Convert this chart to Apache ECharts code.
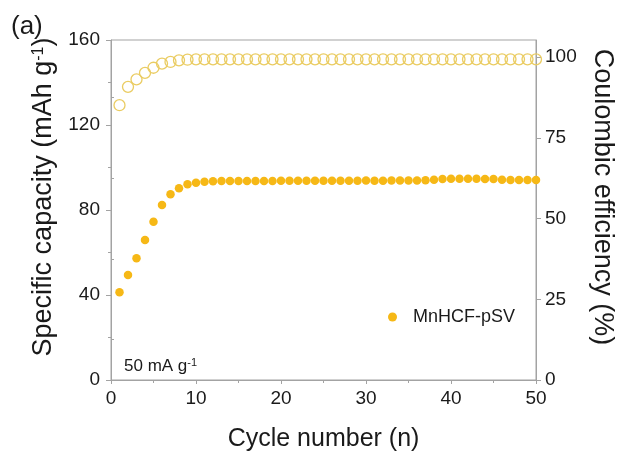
<!DOCTYPE html>
<html>
<head>
<meta charset="utf-8">
<script src="https://cdn.jsdelivr.net/npm/echarts@6/dist/echarts.min.js"></script>
<style>html,body{margin:0;padding:0;background:#fff}#c{width:617px;height:454px}</style>
</head>
<body>
<div id="c"></div>
<script>
const cycles = [1,2,3,4,5,6,7,8,9,10,11,12,13,14,15,16,17,18,19,20,21,22,23,24,25,26,27,28,29,30,31,32,33,34,35,36,37,38,39,40,41,42,43,44,45,46,47,48,49,50];
const capacity = [41.3,49.4,57.3,65.9,74.5,82.4,87.4,90.2,92.1,92.8,93.3,93.5,93.6,93.6,93.6,93.7,93.7,93.7,93.7,93.8,93.8,93.8,93.8,93.8,93.8,93.8,93.8,93.8,93.8,93.9,93.8,93.8,93.9,93.9,93.9,93.9,94.0,94.2,94.6,94.7,94.7,94.7,94.7,94.6,94.6,94.2,94.1,94.1,94.1,94.1];
const efficiency = [85.1,90.8,93.1,95.1,96.7,98.0,98.5,99.0,99.2,99.3,99.3,99.3,99.3,99.3,99.3,99.3,99.3,99.3,99.3,99.3,99.3,99.3,99.3,99.3,99.3,99.3,99.3,99.3,99.3,99.3,99.3,99.3,99.3,99.3,99.3,99.3,99.3,99.3,99.3,99.3,99.3,99.3,99.3,99.3,99.3,99.3,99.3,99.3,99.3,99.3];
const xTicks = [0,10,20,30,40,50];
const leftTicks = [0,40,80,120,160];
const rightTicks = [0,25,50,75,100];
const rightMinor = [12.5,37.5,62.5,87.5];
const seriesName = 'MnHCF-pSV';

const FONT = '"Liberation Sans", Arial, sans-serif';
const AX = '#a3a3a3';
const TXT = '#1a1a1a';
const G = {left: 111, right: 81, top: 40, bottom: 74, outerBoundsMode: 'none', containLabel: false};

const chart = echarts.init(document.getElementById('c'), null, {renderer: 'canvas'});
chart.setOption({
  animation: false,
  backgroundColor: '#fff',
  textStyle: {fontFamily: FONT},
  title: [
    {text: '(a)', left: 6, top: 9, textStyle: {fontFamily: FONT, fontSize: 26, fontWeight: 'normal', color: TXT}},
    {text: '50 mA g{sup|-1}', left: 119, top: 352, textStyle: {fontFamily: FONT, fontSize: 17, fontWeight: 'normal', color: TXT,
      rich: {sup: {fontSize: 11, verticalAlign: 'top', padding: [0,0,8,0], color: TXT}}}}
  ],
  legend: {
    data: [seriesName], left: 383, top: 303, itemWidth: 25, itemHeight: 9,
    textStyle: {fontFamily: FONT, fontSize: 18, color: TXT, padding: [0,0,0,3]}
  },
  grid: [
    Object.assign({show: true, borderColor: AX, borderWidth: 1}, G),
    Object.assign({show: false}, G)
  ],
  xAxis: [
    {
      gridIndex: 0, type: 'value', min: 0, max: 50, interval: 10,
      name: 'Cycle number (n)', nameLocation: 'middle', nameGap: 47,
      nameTextStyle: {fontFamily: FONT, fontSize: 25, color: TXT},
      axisLine: {show: true, lineStyle: {color: AX}},
      axisTick: {show: true, length: 4, lineStyle: {color: AX}, customValues: xTicks},
      minorTick: {show: true, splitNumber: 2, length: 3, lineStyle: {color: AX}},
      axisLabel: {fontFamily: FONT, fontSize: 19, color: TXT, margin: 9, customValues: xTicks},
      splitLine: {show: false}
    },
    {
      gridIndex: 1, type: 'value', min: 0, max: 50, show: false
    }
  ],
  yAxis: [
    {
      gridIndex: 0, type: 'value', min: 0, max: 160, interval: 40, position: 'left',
      name: 'Specific capacity (mAh g{sup|-1})', nameLocation: 'middle', nameGap: 45, nameRotate: 90,
      nameTextStyle: {fontFamily: FONT, fontSize: 27, color: TXT, padding: [0,0,0,26],
        rich: {sup: {fontSize: 16, verticalAlign: 'top', padding: [0,0,11,0], color: TXT}}},
      axisLine: {show: true, lineStyle: {color: AX}},
      axisTick: {show: true, length: 5, lineStyle: {color: AX}},
      minorTick: {show: true, splitNumber: 2, length: 3, lineStyle: {color: AX}},
      axisLabel: {fontFamily: FONT, fontSize: 19, color: TXT, margin: 11, customValues: leftTicks},
      splitLine: {show: false}
    },
    {
      gridIndex: 0, type: 'value', min: 0, max: 105.3, position: 'right',
      name: 'Coulombic efficiency (%)', nameLocation: 'middle', nameGap: 53, nameRotate: -90,
      nameTextStyle: {fontFamily: FONT, fontSize: 27, color: TXT, padding: [0,26,0,0]},
      axisLine: {show: true, lineStyle: {color: AX}},
      axisTick: {show: true, length: 5, lineStyle: {color: AX}, customValues: rightTicks},
      axisLabel: {fontFamily: FONT, fontSize: 19, color: TXT, margin: 9, customValues: rightTicks},
      splitLine: {show: false}
    },
    {
      gridIndex: 1, type: 'value', min: 0, max: 105.3, position: 'right',
      axisLine: {show: false},
      axisTick: {show: true, length: 3, lineStyle: {color: AX}, customValues: rightMinor},
      axisLabel: {show: false},
      splitLine: {show: false}
    }
  ],
  series: [
    {
      name: 'CE', type: 'scatter', xAxisIndex: 0, yAxisIndex: 1, symbol: 'circle', symbolSize: 11,
      itemStyle: {color: 'rgba(0,0,0,0)', borderColor: '#EACC62', borderWidth: 1.3, opacity: 1},
      data: cycles.map((c, i) => [c, efficiency[i]])
    },
    {
      name: seriesName, type: 'scatter', xAxisIndex: 0, yAxisIndex: 0, symbol: 'circle', symbolSize: 8.5,
      itemStyle: {color: '#F6B816', opacity: 1},
      data: cycles.map((c, i) => [c, capacity[i]])
    }
  ]
});
</script>
</body>
</html>
